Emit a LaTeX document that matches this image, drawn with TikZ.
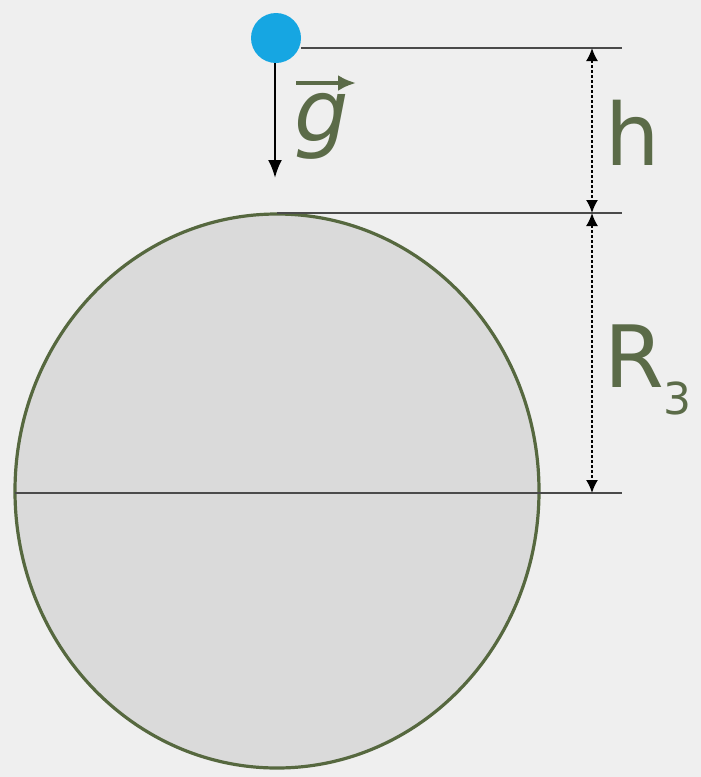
\documentclass[tikz,border=0pt]{standalone}
\usepackage{fontspec}
\setmainfont{DejaVu Sans}
\usetikzlibrary{arrows.meta}
\definecolor{bg}{HTML}{EFEFEF}
\definecolor{olive}{HTML}{56683F}
\definecolor{txt}{HTML}{5B6B48}
\definecolor{ballc}{HTML}{16A6E2}
\definecolor{sph}{HTML}{DADADA}
\definecolor{ln}{HTML}{4A4A4A}
\tikzset{
  refline/.style={draw=ln, line width=2.6pt},
  dimarrow/.style={draw=black, line width=1.8pt, dash pattern=on 3pt off 2pt, {Latex[length=13pt,width=12pt]}-{Latex[length=13pt,width=12pt]}},
  lbl/.style={text=txt, inner sep=0pt, anchor=base west, font=\fontsize{86}{90}\selectfont},
}
\begin{document}
\begin{tikzpicture}[x=1pt,y=-1pt]
\fill[bg] (0,0) rectangle (701,777);
\useasboundingbox (0,0) rectangle (701,777);
% sphere
\filldraw[fill=sph, draw=olive, line width=3.2pt] (277,491) ellipse [x radius=262, y radius=277];
% reference lines
\node[circle, fill=ballc, minimum size=50pt, inner sep=0pt] (ball) at (276,38) {};
\coordinate (topR) at (622,48);
\coordinate (spTop) at (277,213);
\coordinate (midR) at (622,213);
\coordinate (eqL) at (15,493);
\coordinate (eqR) at (622,493);
\draw[refline] (ball.east |- topR) -- (topR);
\draw[refline] (spTop) -- (midR);
\draw[refline] (eqL) -- (eqR);
% gravity arrow
\coordinate (gEnd) at (275,178);
\draw[black, line width=2.4pt, -{Latex[length=18pt,width=14pt]}] (ball.south -| gEnd) -- (gEnd);
\node[lbl, font=\fontsize{86}{90}\selectfont\itshape] (g) at (294,141) {g};
\coordinate (gvA) at (296,83);
\coordinate (gvB) at (356,83);
\draw[txt, line width=3.5pt, -{Latex[length=18pt,width=16pt]}] (gvA) -- (gvB);
% dimension arrows
\coordinate (d1) at (592,48);
\coordinate (d2) at (592,213);
\coordinate (d3) at (592,493);
\draw[dimarrow] (d1) -- (d2);
\draw[dimarrow] (d2) -- (d3);
\node[lbl] (h) at (605,165) {h};
\node[lbl] (R) at (604,387) {R\raisebox{-0.32em}{\fontsize{44}{46}\selectfont 3}};
\end{tikzpicture}
\end{document}
